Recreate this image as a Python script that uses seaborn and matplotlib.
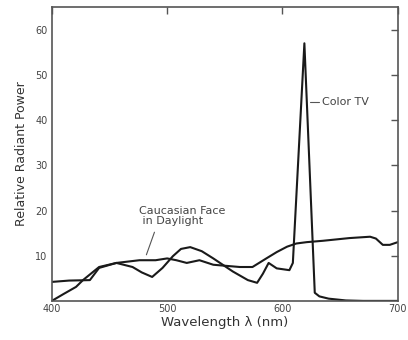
import matplotlib
matplotlib.use("Agg")
import matplotlib.pyplot as plt
import seaborn as sns
import pandas as pd

# Color TV spectrum
tv_wl = [400, 410, 421, 427, 441, 456, 470, 478, 487, 496, 505, 512, 520, 530, 540, 557, 570, 578,
         583, 588, 595, 606, 609, 619, 628, 632, 640, 655, 670, 700]
tv_pw = [0.0, 1.5, 3.1, 4.6, 7.5, 8.4, 7.5, 6.3, 5.3, 7.3, 9.9, 11.5, 11.9, 11.0, 9.4, 6.5, 4.6, 4.0,
         6.0, 8.4, 7.2, 6.8, 8.4, 57.0, 1.8, 1.0, 0.5, 0.1, 0.0, 0.0]

# Caucasian face in daylight
face_wl = [400, 415, 433, 441, 456, 476, 490, 500, 508, 517, 528, 540, 563, 574, 586, 595, 604,
           612, 621, 635, 658, 676, 681, 687, 693, 700]
face_pw = [4.2, 4.5, 4.6, 7.3, 8.4, 9.0, 9.0, 9.4, 9.0, 8.4, 9.0, 8.0, 7.5, 7.5, 9.4, 10.8, 12.0,
           12.7, 13.0, 13.3, 13.9, 14.2, 13.8, 12.4, 12.4, 13.0]

df = pd.concat([
    pd.DataFrame({"wl": tv_wl, "power": tv_pw, "series": "Color TV"}),
    pd.DataFrame({"wl": face_wl, "power": face_pw, "series": "Face"}),
])

sns.set_theme(style="white")
plt.rcParams['font.family'] = ['DejaVu Sans']

fig = plt.figure(figsize=(4.08, 3.40), dpi=100)
ax = fig.add_axes([0.127, 0.115, 0.848, 0.864])

sns.lineplot(data=df, x="wl", y="power", units="series", estimator=None,
             color="#1a1a1a", linewidth=1.5, ax=ax, legend=False)

ax.set_xlim(400, 700)
ax.set_ylim(0, 65)
ax.set_xticks([400, 500, 600, 700])
ax.set_yticks([10, 20, 30, 40, 50, 60])
ax.tick_params(direction="in", length=5, width=1, color="#555555", labelsize=7,
               labelcolor="#444444", top=True, right=True, pad=3)
ax.tick_params(axis="x", pad=2)
for s in ax.spines.values():
    s.set_color("#555555")
    s.set_linewidth(1.2)

ax.set_xlabel("Wavelength λ (nm)", fontsize=9.5, color="#333333", labelpad=2)
ax.set_ylabel("Relative Radiant Power", fontsize=9, color="#333333", labelpad=5)

ax.text(634, 44, "Color TV", fontsize=8, color="#444444", va="center", ha="left")
ax.plot([624, 632], [44, 44], color="#555555", linewidth=0.8)

ax.text(476, 18.8, "Caucasian Face\n in Daylight", fontsize=8, color="#444444",
        va="center", ha="left", linespacing=1.05)
ax.plot([489, 482], [15.2, 10.2], color="#555555", linewidth=0.8)

fig.savefig("out.png", dpi=100)
